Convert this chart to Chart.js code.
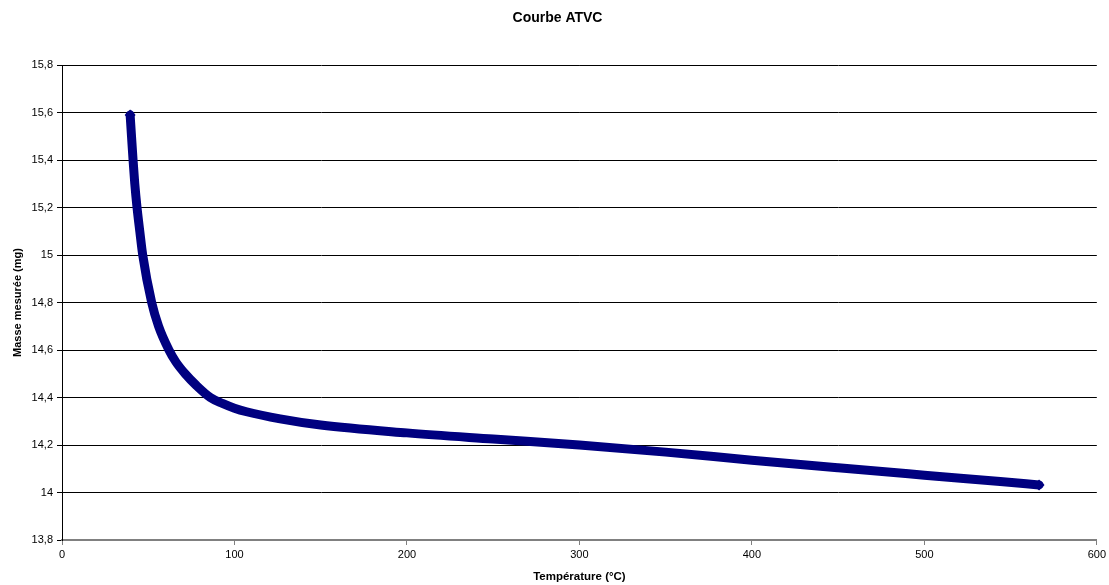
<!DOCTYPE html>
<html>
<head>
<meta charset="utf-8">
<title>Courbe ATVC</title>
<script src="https://cdn.jsdelivr.net/npm/chart.js@4/dist/chart.umd.min.js"></script>
<style>
  body { margin: 0; background: #fff; }
  #wrap { width: 1109px; height: 585px; position: relative; }
</style>
</head>
<body>
<div id="wrap"><canvas id="atvc"></canvas></div>
<script>
// temperatures (°C)
const temperatures = [39.5, 40.3, 41.2, 42.2, 43.5, 45.1, 46.8, 52, 56, 62, 66, 71.4, 78, 86, 93, 100, 107, 126.5, 150, 200, 250, 300, 350, 400, 450, 500, 544, 566.5];
// measured mass (mg)
const masses = [15.59, 15.5, 15.4, 15.3, 15.2, 15.1, 15.0, 14.8, 14.7, 14.6, 14.55, 14.5, 14.45, 14.4, 14.375, 14.355, 14.34, 14.31, 14.284, 14.251, 14.225, 14.2, 14.17, 14.136, 14.104, 14.073, 14.046, 14.032];
const yTicks = [13.8, 14, 14.2, 14.4, 14.6, 14.8, 15, 15.2, 15.4, 15.6, 15.8];

const points = temperatures.map((t, i) => ({ x: t, y: masses[i] }));
const lastIdx = points.length - 1;

function frLabel(v) {
    return String(Number(v.toFixed(1))).replace('.', ',');
}

const FONT = 'Arial, "Liberation Sans", sans-serif';

const ctx = document.getElementById('atvc').getContext('2d');
new Chart(ctx, {
    type: 'line',
    data: {
        datasets: [{
            data: points,
            borderColor: '#000080',
            backgroundColor: '#000080',
            borderWidth: 9,
            borderCapStyle: 'round',
            borderJoinStyle: 'round',
            cubicInterpolationMode: 'monotone',
            pointStyle: 'rectRot',
            pointRadius: c => (c.dataIndex === 0 || c.dataIndex === lastIdx) ? 5.5 : 0,
            pointBorderWidth: 0,
            fill: false
        }]
    },
    options: {
        responsive: true,
        maintainAspectRatio: false,
        animation: false,
        layout: { padding: { left: 18, right: 12, top: 0, bottom: 0 } },
        plugins: {
            legend: { display: false },
            tooltip: { enabled: false },
            title: {
                display: true,
                text: 'Courbe ATVC',
                color: '#000',
                font: { family: FONT, size: 14, weight: 'bold' },
                padding: { top: 10.1, bottom: 38.1 }
            }
        },
        scales: {
            x: {
                type: 'linear',
                min: 0,
                max: 600,
                ticks: {
                    stepSize: 100,
                    color: '#000',
                    padding: 3,
                    font: { family: FONT, size: 11 }
                },
                grid: { drawOnChartArea: false, drawTicks: true, tickLength: 5, color: '#808080' },
                border: { color: '#808080', width: 2 },
                title: {
                    display: true,
                    text: 'Température (°C)',
                    color: '#000',
                    font: { family: FONT, size: 11.5, weight: 'bold' },
                    padding: { top: 0, bottom: 1.2 }
                },
                afterFit: s => { s.height = 45; }
            },
            y: {
                min: 13.8,
                max: 15.8,
                afterBuildTicks: s => { s.ticks = yTicks.map(v => ({ value: v })); },
                ticks: {
                    color: '#000',
                    padding: 4,
                    font: { family: FONT, size: 11 },
                    callback: v => frLabel(v)
                },
                grid: {
                    color: c => (c.tick && Math.abs(c.tick.value - 13.8) < 1e-6) ? 'rgba(0,0,0,0)' : '#000',
                    tickColor: '#000',
                    tickLength: 5,
                    lineWidth: 1
                },
                border: { color: '#000', width: 1 },
                title: {
                    display: true,
                    text: 'Masse mesurée (mg)',
                    color: '#000',
                    font: { family: FONT, size: 11, weight: 'bold' },
                    padding: { top: -6.3, bottom: 0 }
                },
                afterFit: s => { s.width = 44; }
            }
        }
    }
});
</script>
</body>
</html>
